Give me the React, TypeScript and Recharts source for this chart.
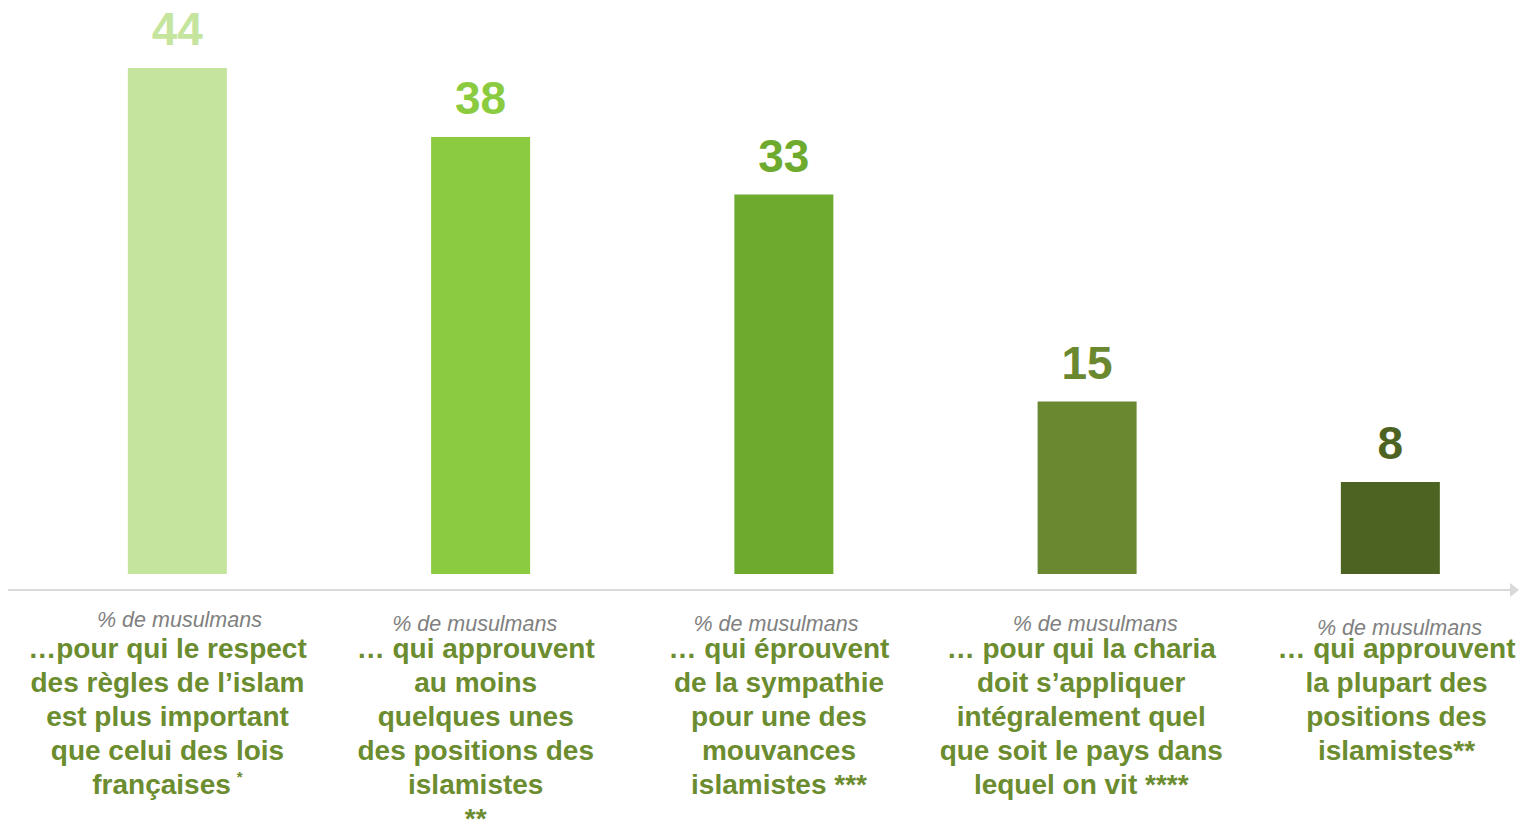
import React from 'react';
import { BarChart, Bar, XAxis, YAxis, Cell, LabelList } from 'recharts';

const positions = [1, 2, 3, 4, 5];
const values = [44, 38, 33, 15, 8];
const prefix = '% de musulmans';
const labelLines = [
  ['…pour qui le respect', 'des règles de l’islam', 'est plus important', 'que celui des lois', 'françaises'],
  ['… qui approuvent', 'au moins', 'quelques unes', 'des positions des', 'islamistes', '**'],
  ['… qui éprouvent', 'de la sympathie', 'pour une des', 'mouvances', 'islamistes ***'],
  ['… pour qui la charia', 'doit s’appliquer', 'intégralement quel', 'que soit le pays dans', 'lequel on vit ****'],
  ['… qui approuvent', 'la plupart des', 'positions des', 'islamistes**'],
];
const footMarks = ['*', '', '', '', ''];

const COLORS = ['#c5e59f', '#8bcb40', '#6eaa2e', '#6a8830', '#4d6322'];
const TEXT_GREEN = '#6b8c2f';
const FONT = '"Liberation Sans", Arial, sans-serif';

// small per-column nudges of the text blocks, as in the original slide
const LABEL_DX = [-10, -5, -5, -6, 6];
const PREFIX_DX = [2, -6, -8, 8, 9];
const PREFIX_DY = [-3, 1, 1, 1, 5];

const data = positions.map((p, i) => ({ pos: p, value: values[i] }));

const CategoryTick = (props: any) => {
  const { x, y, payload } = props;
  const i = positions.indexOf(payload.value);
  if (i < 0) return null;
  const cx = x + LABEL_DX[i];
  return (
    <g>
      <text
        x={x + PREFIX_DX[i]}
        y={y + 40 + PREFIX_DY[i]}
        textAnchor="middle"
        fontFamily={FONT}
        fontStyle="italic"
        fontSize={21.5}
        fill="#808080"
      >
        {prefix}
      </text>
      {labelLines[i].map((line, k) => (
        <text
          key={k}
          x={cx}
          y={y + 68 + k * 34}
          textAnchor="middle"
          fontFamily={FONT}
          fontWeight="bold"
          fontSize={28}
          fill={TEXT_GREEN}
        >
          {line}
          {k === labelLines[i].length - 1 && footMarks[i] ? (
            <tspan fontSize={15} dx={6} dy={-12}>
              {footMarks[i]}
            </tspan>
          ) : null}
        </text>
      ))}
    </g>
  );
};

const ValueLabel = (props: any) => {
  const { x, y, width, index, value } = props;
  return (
    <text
      x={x + width / 2}
      y={y - 23}
      textAnchor="middle"
      fontFamily={FONT}
      fontWeight="bold"
      fontSize={46}
      fill={COLORS[index % COLORS.length]}
    >
      {value}
    </text>
  );
};

export default function App() {
  return (
    <div
      style={{
        position: 'relative',
        width: 1519,
        height: 821,
        boxSizing: 'border-box',
        padding: '8px 0 0 8px',
        overflow: 'hidden',
        fontFamily: FONT,
      }}
    >
      <style>{`body { margin: 0; overflow: hidden; } .recharts-surface { overflow: visible; }`}</style>
      <BarChart
        width={1511}
        height={812}
        data={data}
        margin={{ top: 60, right: 8, bottom: 0, left: 0 }}
      >
        <XAxis
          dataKey="pos"
          type="number"
          domain={[0.4411, 5.3974]}
          ticks={positions}
          interval={0}
          allowDataOverflow
          axisLine={{ stroke: '#d9d9d9', strokeWidth: 2 }}
          tickLine={false}
          tickSize={0}
          tickMargin={0}
          height={230}
          tick={<CategoryTick />}
        />
        <YAxis hide domain={[-1.3913, 44]} allowDataOverflow />
        <Bar dataKey="value" barSize={99} isAnimationActive={false}>
          {data.map((d, i) => (
            <Cell key={`cell-${i}`} fill={COLORS[i % COLORS.length]} />
          ))}
          <LabelList dataKey="value" content={<ValueLabel />} />
        </Bar>
      </BarChart>
      {/* arrow head at the end of the axis line */}
      <svg
        width={10}
        height={14}
        style={{ position: 'absolute', left: 1510, top: 583, overflow: 'visible' }}
      >
        <path d="M0,0 L9,7 L0,14 z" fill="#d9d9d9" />
      </svg>
    </div>
  );
}
